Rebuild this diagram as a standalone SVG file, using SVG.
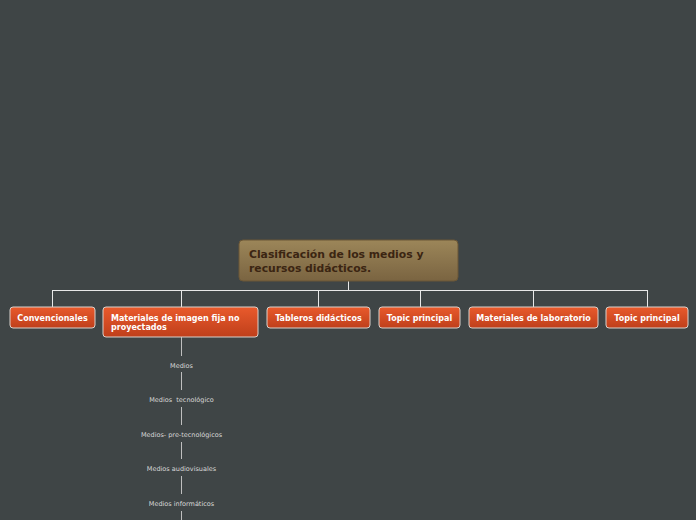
<svg xmlns="http://www.w3.org/2000/svg" width="696" height="520" viewBox="0 0 696 520">
<defs>
<linearGradient id="gRoot" x1="0" y1="0" x2="0" y2="1"><stop offset="0" stop-color="#9c8659"/><stop offset="1" stop-color="#7a6441"/></linearGradient>
<linearGradient id="gNode" x1="0" y1="0" x2="0" y2="1"><stop offset="0" stop-color="#e95a2c"/><stop offset="1" stop-color="#bf3f1b"/></linearGradient>
<style>
.root rect{fill:url(#gRoot);stroke:#6a5636;stroke-width:1}
.root text{font-family:"DejaVu Sans",Verdana,sans-serif;font-weight:bold;font-size:10.8px;fill:#3b2512}
.node rect{fill:url(#gNode);stroke:#d9d2cc;stroke-width:1}
.node text{font-family:"DejaVu Sans",Verdana,sans-serif;font-weight:bold;font-size:8px;fill:#ffffff}
.sub text{font-family:"DejaVu Sans",Verdana,sans-serif;font-size:6.5px;fill:#d8d8d8;text-anchor:middle}
.conn{stroke:#e8e8e8;stroke-width:1;fill:none}
.subconn{stroke:#bfbfbf;stroke-width:1;fill:none}
</style>
</defs>
<rect width="696" height="520" fill="#3f4546"/>
<g id="connectors">
<path class="conn" d="M348.5 281V290.5M52.5 290.5H647.5M52.5 290V307M181.5 290V307M318.5 290V307M420.5 290V307M533.5 290V307M647.5 290V307"/>
<path class="subconn" d="M181.5 337V356M181.5 372V390M181.5 407V425M181.5 442V459M181.5 476V494M181.5 511V520"/>
</g>
<g id="root" class="root">
<rect x="239" y="240" width="219" height="41" rx="4"/>
<text x="249" y="258">Clasificación de los medios y</text>
<text x="249" y="272">recursos didácticos.</text>
</g>
<g id="n1" class="node"><rect x="10" y="307" width="85" height="21" rx="3"/><text x="52.5" y="321" text-anchor="middle">Convencionales</text></g>
<g id="n2" class="node"><rect x="103" y="307" width="155" height="30" rx="3"/><text x="111" y="321">Materiales de imagen fija no</text><text x="111" y="330">proyectados</text></g>
<g id="n3" class="node"><rect x="267" y="307" width="103" height="21" rx="3"/><text x="318.5" y="321" text-anchor="middle">Tableros didácticos</text></g>
<g id="n4" class="node"><rect x="379" y="307" width="81" height="21" rx="3"/><text x="419.5" y="321" text-anchor="middle">Topic principal</text></g>
<g id="n5" class="node"><rect x="469" y="307" width="129" height="21" rx="3"/><text x="533.5" y="321" text-anchor="middle">Materiales de laboratorio</text></g>
<g id="n6" class="node"><rect x="606" y="307" width="82" height="21" rx="3"/><text x="647" y="321" text-anchor="middle">Topic principal</text></g>
<g id="s1" class="sub"><text x="181.5" y="368">Medios</text></g>
<g id="s2" class="sub"><text x="181.5" y="402" xml:space="preserve">Medios  tecnológico</text></g>
<g id="s3" class="sub"><text x="181.5" y="437">Medios- pre-tecnológicos</text></g>
<g id="s4" class="sub"><text x="181.5" y="471">Medios audiovisuales</text></g>
<g id="s5" class="sub"><text x="181.5" y="506">Medios informáticos</text></g>
</svg>
